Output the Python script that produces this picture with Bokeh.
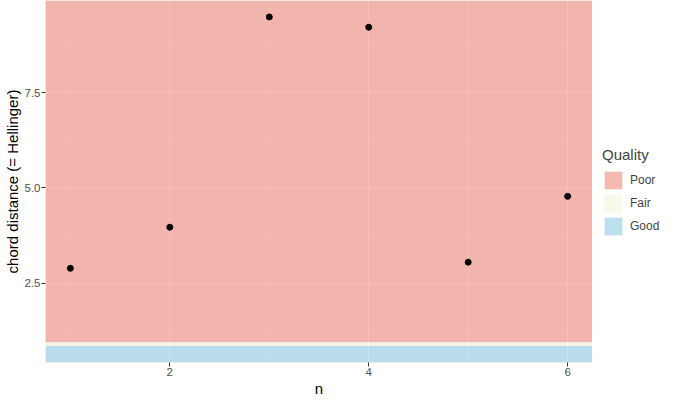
import math
from bokeh.plotting import figure
from bokeh.layouts import row
from bokeh.models import Range1d, FixedTicker, Legend, LegendItem
from bokeh.embed import file_html
from bokeh.resources import INLINE

# ---- data ----
n = [1, 2, 3, 4, 5, 6]
chord = [2.89, 3.97, 9.49, 9.22, 3.05, 4.78]

quality = ["Poor", "Fair", "Good"]
q_lower = [0.95, 0.85, -math.inf]
q_upper = [math.inf, 0.95, 0.85]
q_colors = ["salmon", "lightyellow", "skyblue"]

x_ticks = [2, 4, 6]
x_minor = [1, 3, 5]
y_ticks = [2.5, 5.0, 7.5]
y_minor = [1.25, 3.75, 6.25, 8.75]
y_tick_labels = ["2.5", "5.0", "7.5"]

FONT = "Liberation Sans"

# ---- ranges (ggplot-like 5% expansion) ----
x_lo, x_hi = min(n), max(n)
x_pad = 0.05 * (x_hi - x_lo)
finite = [v for v in q_lower + q_upper if math.isfinite(v)] + chord
y_lo, y_hi = min(finite), max(finite)
y_pad = 0.05 * (y_hi - y_lo)
xr = Range1d(x_lo - x_pad, x_hi + x_pad)
yr = Range1d(y_lo - y_pad, y_hi + y_pad)

p = figure(width=592, height=399, x_range=xr, y_range=yr,
           output_backend="svg", toolbar_location=None,
           background_fill_color="#EBEBEB", border_fill_color="white",
           min_border_left=0, min_border_right=0, min_border_top=0, min_border_bottom=0)
p.outline_line_color = None

# bands
for i in range(3):
    p.quad(left=xr.start, right=xr.end,
           bottom=max(q_lower[i], yr.start), top=min(q_upper[i], yr.end),
           fill_color=q_colors[i], fill_alpha=0.5, line_color=None)

p.scatter(n, chord, size=6, color="black")

# axes
for ax in (p.xaxis[0], p.yaxis[0]):
    ax.axis_line_color = None
    ax.major_tick_line_color = "#333333"
    ax.major_tick_out = 4
    ax.major_tick_in = 0
    ax.minor_tick_line_color = None
    ax.major_label_text_color = "#4D4D4D"
    ax.major_label_text_font = FONT
    ax.major_label_text_font_size = "11.5px"
    ax.major_label_standoff = 1
    ax.axis_label_text_font = FONT
    ax.axis_label_text_font_size = "15px"
    ax.axis_label_text_font_style = "normal"
    ax.axis_label_text_color = "black"
    ax.axis_label_standoff = 1

p.xaxis.ticker = FixedTicker(ticks=x_ticks, minor_ticks=x_minor)
p.yaxis.ticker = FixedTicker(ticks=y_ticks, minor_ticks=y_minor)
p.yaxis.major_label_overrides = {t: l for t, l in zip(y_ticks, y_tick_labels)}
p.xaxis.axis_label = "n"
p.yaxis.axis_label = "chord distance (= Hellinger)"

for g in (p.xgrid[0], p.ygrid[0]):
    g.grid_line_color = "white"
    g.grid_line_width = 1.1
    g.minor_grid_line_color = "white"
    g.minor_grid_line_width = 0.55

# ---- legend panel ----
lg = figure(width=69, height=399, x_range=(0, 1), y_range=(0, 1),
            output_backend="svg", toolbar_location=None,
            min_border_left=0, min_border_right=0, min_border_top=0, min_border_bottom=0)
lg.outline_line_color = None
lg.axis.visible = False
lg.grid.visible = False
nan = [float("nan")]
key_bg = lg.quad(left=nan, right=nan, bottom=nan, top=nan, fill_color="#F2F2F2", line_color=None)
items = []
for i in range(3):
    r = lg.quad(left=nan, right=nan, bottom=nan, top=nan,
                fill_color=q_colors[i], fill_alpha=0.5, line_color=None)
    items.append(LegendItem(label=quality[i], renderers=[key_bg, r]))

legend = Legend(items=items, location=(10, 125))
legend.title = "Quality"
legend.title_text_font = FONT
legend.title_text_font_size = "15px"
legend.title_text_font_style = "normal"
legend.title_standoff = 6
legend.label_text_font = FONT
legend.label_text_font_size = "12px"
legend.glyph_width = 22
legend.glyph_height = 22
legend.label_height = 22
legend.spacing = 1
legend.label_standoff = 6
legend.padding = 0
legend.margin = 0
legend.border_line_color = None
legend.background_fill_alpha = 0
lg.add_layout(legend, "center")

open("out.html", "w").write(file_html(row(p, lg), INLINE))
